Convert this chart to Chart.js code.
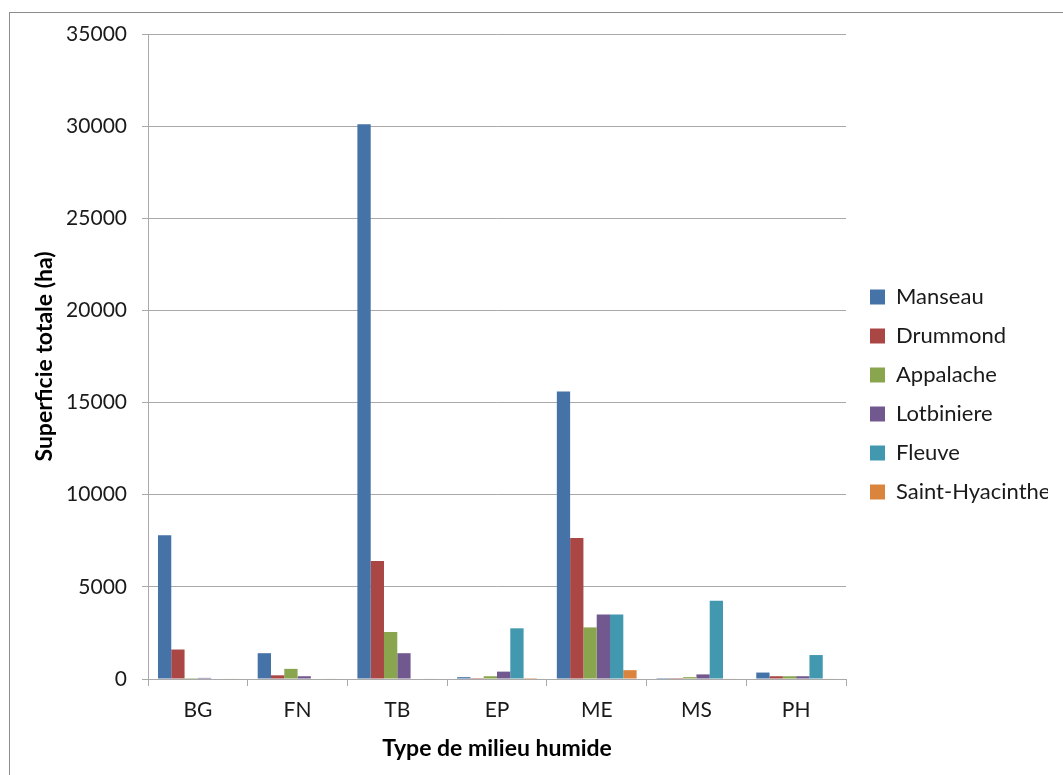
<!DOCTYPE html>
<html>
<head>
<meta charset="utf-8">
<script src="https://cdn.jsdelivr.net/npm/chart.js@4"></script>
<style>
  html, body { margin: 0; padding: 0; background: #fff; overflow: hidden; }
  #frame {
    position: absolute; left: 9px; top: 12px;
    width: 1054px; height: 763px;
    border-top: 1px solid #8c8c8c; border-left: 1px solid #8c8c8c;
  }
  #wrap { position: absolute; left: 0; top: 0; width: 1053px; height: 762px; }
</style>
</head>
<body>
<div id="frame"><div id="wrap"><canvas id="chart"></canvas></div></div>
<script>
// Superficie totale des milieux humides par type et par région

const categories = ['BG', 'FN', 'TB', 'EP', 'ME', 'MS', 'PH'];

const manseau        = [7800, 1400, 30100, 100, 15600, 50, 350];
const drummond       = [1600, 200, 6400, 50, 7650, 50, 150];
const appalache      = [50, 550, 2550, 150, 2800, 100, 150];
const lotbiniere     = [60, 150, 1400, 400, 3500, 250, 150];
const fleuve         = [0, 0, 0, 2750, 3500, 4250, 1300];
const saintHyacinthe = [30, 30, 30, 50, 480, 30, 30];

const seriesNames = ['Manseau', 'Drummond', 'Appalache', 'Lotbiniere', 'Fleuve', 'Saint-Hyacinthe'];
const seriesData = [manseau, drummond, appalache, lotbiniere, fleuve, saintHyacinthe];
const colors = ['#4572A7', '#AA4643', '#89A54E', '#71588F', '#4198AF', '#DB843D'];

const yMin = 0, yMax = 35000, yStep = 5000;

const FONT = 'Lato, "Open Sans", sans-serif';
const gridColor = '#a9a9a9';

// Excel puts the legend a bit further from the plot and a little higher
const legendShift = {
  id: 'legendShift',
  afterLayout(chart){
    const lg = chart.legend;
    if (!lg) return;
    lg.left += 7; lg.right += 7;
    lg.top -= 10; lg.bottom -= 10;
  }
};

const ctx = document.getElementById('chart').getContext('2d');
new Chart(ctx, {
  type: 'bar',
  data: {
    labels: categories,
    datasets: seriesNames.map((name, i) => ({
      label: name,
      data: seriesData[i],
      backgroundColor: colors[i],
      borderWidth: 0,
      categoryPercentage: 0.8,
      barPercentage: 1.0
    }))
  },
  options: {
    responsive: true,
    maintainAspectRatio: false,
    animation: false,
    layout: { padding: { top: 21, left: 0, bottom: 0, right: 22 } },
    plugins: {
      tooltip: { enabled: false },
      legend: {
        position: 'right',
        maxWidth: 195,
        labels: {
          font: { family: FONT, size: 22 },
          color: '#1a1a1a',
          boxWidth: 15,
          boxHeight: 15,
          padding: 17
        }
      }
    },
    scales: {
      x: {
        grid: {
          offset: true,
          drawOnChartArea: false,
          drawTicks: true,
          tickLength: 7,
          color: gridColor
        },
        border: { color: gridColor },
        ticks: {
          font: { family: FONT, size: 21 },
          color: '#1a1a1a',
          padding: 12
        },
        title: {
          display: true,
          text: 'Type de milieu humide',
          font: { family: FONT, size: 23, weight: 'bold' },
          color: '#000',
          padding: { top: 0, bottom: 13 }
        },
        afterFit: s => { s.height = 96; }
      },
      y: {
        min: yMin,
        max: yMax,
        grid: {
          color: gridColor,
          tickLength: 6
        },
        border: { color: gridColor },
        ticks: {
          stepSize: yStep,
          font: { family: FONT, size: 21 },
          color: '#1a1a1a',
          padding: 15,
          callback: v => String(v)
        },
        title: {
          display: true,
          text: 'Superficie totale (ha)',
          font: { family: FONT, size: 23, weight: 'bold' },
          color: '#000',
          padding: { top: 21, bottom: 0 }
        },
        afterFit: s => {
          s.width = 138;
          s.paddingTop = 0;
          s.paddingBottom = 0;
        }
      }
    }
  },
  plugins: [legendShift]
});
</script>
</body>
</html>
